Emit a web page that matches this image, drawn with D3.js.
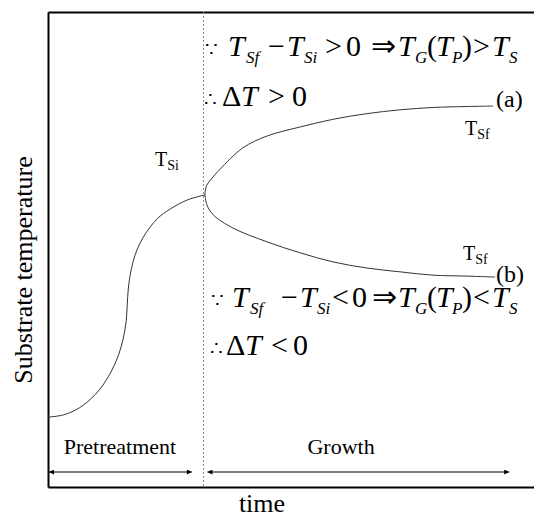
<!DOCTYPE html>
<html>
<head>
<meta charset="utf-8">
<script src="https://cdn.jsdelivr.net/npm/d3@7"></script>
</head>
<body style="margin:0; background:#fff">
<div id="container"></div>
<script>
/* CONSTANTS AND GLOBALS */
const width = 534;
const height = 519;
const plotLeft = 48, plotTop = 12, plotBottom = 487;
const serif = '"Liberation Serif", "Times New Roman", serif';

/* DATA (time and temperature in arbitrary 0-100 units) */
const rampTime = [0, 3.25, 6.5, 9.75, 12.1, 14.1, 15.4, 16.1, 16.3, 16.5, 16.9, 17.5, 18.3, 19.5, 21.0, 22.6, 25.1, 28.6, 32.3];
const rampTemp = [14.7, 15.2, 16.7, 19.5, 22.7, 26.7, 30.9, 35.0, 38.3, 41.5, 44.6, 47.4, 49.9, 52.4, 54.7, 56.6, 58.5, 60.4, 61.5];

const branchATime = [32.3, 32.6, 34.0, 35.4, 40.1, 45.1, 51.9, 58.6, 65.6, 72.4, 79.2, 86.2, 91.6];
const branchATemp = [61.5, 63.4, 65.3, 66.9, 71.4, 73.9, 75.8, 77.4, 78.6, 79.4, 79.9, 80.1, 80.2];

const branchBTime = [32.3, 32.7, 34.0, 38.1, 45.1, 51.9, 58.6, 65.6, 72.4, 79.2, 86.2, 92.0];
const branchBTemp = [61.5, 59.4, 57.3, 54.5, 51.6, 49.3, 47.4, 46.1, 45.3, 44.6, 44.4, 44.2];

const growthStart = 32;
const phaseNames = ["Pretreatment", "Growth"];
const phaseStart = [0.2, 32.8];
const phaseEnd = [29.6, 94.9];
const phaseLabelAt = [14.8, 60.3];

/* SCALES */
const xScale = d3.scaleLinear().domain([0, 100]).range([plotLeft, 534]);
const yScale = d3.scaleLinear().domain([0, 100]).range([plotBottom, plotTop]);

/* HTML ELEMENTS */
const svg = d3.select("#container")
  .append("svg")
  .attr("width", width)
  .attr("height", height)
  .style("font-family", serif);

const defs = svg.append("defs");
["start", "end"].forEach(k => {
  defs.append("marker")
    .attr("id", "arrow-" + k)
    .attr("viewBox", "0 0 10 10")
    .attr("refX", k === "end" ? 10 : 0)
    .attr("refY", 5)
    .attr("markerWidth", 6)
    .attr("markerHeight", 5)
    .attr("markerUnits", "userSpaceOnUse")
    .attr("orient", "auto")
    .append("path")
    .attr("d", k === "end" ? "M0,0L10,5L0,10Z" : "M10,0L0,5L10,10Z")
    .attr("fill", "#000");
});

// frame: left, bottom and top axes without ticks
svg.append("g")
  .attr("transform", `translate(${plotLeft},0)`)
  .call(d3.axisLeft(yScale).tickValues([]).tickSizeOuter(0));
svg.append("g")
  .attr("transform", `translate(0,${plotBottom})`)
  .call(d3.axisBottom(xScale).tickValues([]).tickSizeOuter(0));
svg.append("g")
  .attr("transform", `translate(0,${plotTop})`)
  .call(d3.axisTop(xScale).tickValues([]).tickSizeOuter(0));
svg.selectAll(".domain").attr("stroke", "#000").attr("stroke-width", 2);

// dotted boundary between pretreatment and growth
svg.append("line")
  .attr("x1", xScale(growthStart)).attr("x2", xScale(growthStart))
  .attr("y1", yScale(100)).attr("y2", yScale(0))
  .attr("stroke", "#888")
  .attr("stroke-width", 1)
  .attr("stroke-dasharray", "2,2");

// curves
const zip = (t, v) => t.map((d, i) => [d, v[i]]);
const line = d3.line()
  .x(d => xScale(d[0]))
  .y(d => yScale(d[1]))
  .curve(d3.curveCatmullRom.alpha(0.5));

[zip(rampTime, rampTemp), zip(branchATime, branchATemp), zip(branchBTime, branchBTemp)]
  .forEach(pts => {
    svg.append("path")
      .attr("d", line(pts))
      .attr("fill", "none")
      .attr("stroke", "#333")
      .attr("stroke-width", 1);
  });

// phase arrows and labels
phaseNames.forEach((name, i) => {
  svg.append("line")
    .attr("x1", xScale(phaseStart[i])).attr("x2", xScale(phaseEnd[i]))
    .attr("y1", 472).attr("y2", 472)
    .attr("stroke", "#000")
    .attr("stroke-width", 1)
    .attr("marker-start", "url(#arrow-start)")
    .attr("marker-end", "url(#arrow-end)");
  svg.append("text")
    .attr("x", xScale(phaseLabelAt[i]))
    .attr("y", 454)
    .attr("text-anchor", "middle")
    .style("font-size", "22px")
    .text(name);
});

// axis titles
svg.append("text")
  .attr("transform", "translate(32,270) rotate(-90)")
  .attr("text-anchor", "middle")
  .style("font-size", "26px")
  .text("Substrate temperature");
svg.append("text")
  .attr("x", 262).attr("y", 512)
  .attr("text-anchor", "middle")
  .style("font-size", "26px")
  .text("time");

// T with subscript labels
function tLabel(x, y, sub) {
  const t = svg.append("text").attr("x", x).attr("y", y).style("font-size", "20px");
  t.append("tspan").text("T");
  t.append("tspan").style("font-size", "14px").attr("dy", 4).text(sub);
}
tLabel(155, 166, "Si");
tLabel(465, 135, "Sf");
tLabel(463, 260, "Sf");

svg.append("text").attr("x", 496).attr("y", 107).style("font-size", "24px").text("(a)");
svg.append("text").attr("x", 496).attr("y", 282).style("font-size", "24px").text("(b)");

// equations: [text, x, style]  n = normal, i = italic, s = italic subscript, d = small dots
const sizes = { n: "30px", i: "30px", s: "17px", d: "20px" };
function equation(y, parts) {
  const t = svg.append("text").attr("y", y).style("font-size", "30px");
  parts.forEach(([txt, x, st]) => {
    t.append("tspan")
      .attr("x", x)
      .attr("y", st === "s" ? y + 7 : y)
      .style("font-size", sizes[st])
      .style("font-style", st === "i" || st === "s" ? "italic" : "normal")
      .text(txt);
  });
}

equation(56, [
  ["\u2235", 205, "d"], ["T", 228, "i"], ["Sf", 246, "s"], ["\u2212", 268, "n"],
  ["T", 287, "i"], ["Si", 304, "s"], [">", 325, "n"], ["0", 346, "n"],
  ["\u21D2", 371, "n"], ["T", 398, "i"], ["G", 415, "s"], ["(", 427, "n"],
  ["T", 436, "i"], ["P", 452, "s"], [")", 462, "n"], [">", 473, "n"],
  ["T", 492, "i"], ["S", 509, "s"]
]);
equation(106, [
  ["\u2234", 204, "d"], ["\u0394", 222, "n"], ["T", 241, "i"], [">", 268, "n"], ["0", 292, "n"]
]);
equation(307, [
  ["\u2235", 211, "d"], ["T", 232, "i"], ["Sf", 250, "s"], ["\u2212", 281, "n"],
  ["T", 300, "i"], ["Si", 317, "s"], ["<", 332, "n"], ["0", 352, "n"],
  ["\u21D2", 372, "n"], ["T", 398, "i"], ["G", 415, "s"], ["(", 427, "n"],
  ["T", 436, "i"], ["P", 452, "s"], [")", 462, "n"], ["<", 473, "n"],
  ["T", 492, "i"], ["S", 509, "s"]
]);
equation(355, [
  ["\u2234", 210, "d"], ["\u0394", 226, "n"], ["T", 245, "i"], ["<", 271, "n"], ["0", 293, "n"]
]);
</script>
</body>
</html>
